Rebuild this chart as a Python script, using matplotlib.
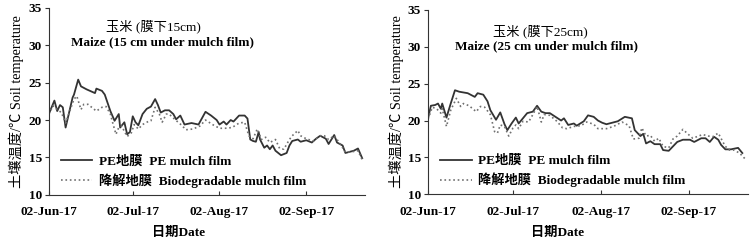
import matplotlib
matplotlib.use('Agg')
import matplotlib.pyplot as plt
import matplotlib.dates as mdates
import numpy as np
import pandas as pd

plt.rcParams['font.family'] = ['Liberation Serif', 'Noto Sans CJK SC']
plt.rcParams['font.weight'] = 'bold'

start = pd.Timestamp('2017-06-02')
tick_dates = ['2017-06-02', '2017-07-02', '2017-08-02', '2017-09-02']

# 15 cm, PE film (days since 02-Jun-17, degC)
pe15_day = [0, 2, 3, 4, 5, 6, 7.5, 8.5, 9, 10.5, 11.5, 13.5, 16.5, 17, 19, 20, 22, 23.5, 25, 25.5,
            27, 28, 29, 30, 31, 32, 33.5, 35, 36.5, 38, 39, 40, 41.5, 43, 44.5, 45.5, 47, 48.5, 51,
            53.5, 56, 58, 60, 61, 62.5, 63.5, 65, 66, 68, 70, 71, 72, 73, 74, 75, 75.5, 77, 78, 79,
            80, 81, 83, 85, 86, 87, 89, 90, 92, 94, 95.5, 97, 98, 99, 100, 102, 103, 105, 106, 108,
            109, 110.5, 112]
pe15_val = [20.8, 22.6, 21.2, 22.0, 21.7, 19.0, 21.4, 23.0, 23.4, 25.4, 24.5, 24.1, 23.6, 24.2, 23.9,
            23.4, 21.2, 19.9, 20.8, 19.0, 19.7, 18.1, 18.4, 20.5, 19.7, 19.3, 20.8, 21.5, 21.8, 22.8,
            22.0, 21.0, 21.3, 21.3, 20.8, 20.1, 20.6, 19.4, 19.6, 19.4, 21.1, 20.6, 20.0, 19.4, 19.8,
            19.4, 20.0, 19.8, 20.6, 20.6, 20.2, 17.4, 17.2, 17.1, 18.4, 17.4, 16.3, 16.6, 16.1, 16.6,
            15.9, 15.3, 15.6, 16.6, 17.2, 17.4, 17.1, 17.3, 17.0, 17.5, 17.9, 17.7, 17.5, 16.8, 18.0,
            17.0, 16.6, 15.6, 15.8, 15.9, 16.2, 14.9]

# 15 cm, biodegradable film
bio15_day = [0, 1.5, 3, 4.5, 6, 7.5, 9, 10, 11.5, 12.5, 14, 17, 19, 20.5, 22, 23, 24, 25, 26, 28,
             29.5, 30.5, 32, 33.5, 35.5, 36.5, 38, 39.5, 40.5, 42, 43, 45, 47.5, 49, 51.5, 54, 56,
             58.5, 61, 63, 65.5, 68, 70, 71.5, 73, 74.5, 76, 77.5, 79, 81, 82.5, 84, 86, 87, 89, 90,
             92, 94.5, 97, 98.5, 100, 102, 104, 106, 109, 110.5, 112]
bio15_val = [20.8, 21.9, 21.4, 21.0, 19.6, 21.2, 22.8, 23.2, 21.4, 22.1, 22.1, 21.2, 21.7, 21.8, 20.8,
             19.4, 18.1, 19.0, 19.2, 17.8, 18.3, 19.4, 18.8, 19.4, 19.8, 19.9, 21.7, 20.8, 19.7, 20.8,
             20.8, 20.1, 19.3, 18.7, 18.8, 19.2, 20.0, 19.4, 18.9, 18.9, 19.0, 19.6, 19.7, 17.9, 17.5,
             18.8, 17.4, 17.7, 17.0, 17.4, 16.2, 16.1, 17.4, 17.9, 18.6, 17.9, 17.5, 17.2, 17.9, 17.9,
             17.4, 17.9, 16.9, 15.7, 15.8, 15.9, 14.7]

# 25 cm, PE film
pe25_day = [0, 1, 2.5, 3.5, 4.5, 5, 6.5, 8, 9.5, 11, 14, 16.5, 17.5, 19.5, 21, 22, 24, 25.5, 27, 28,
            29.5, 31, 32, 33.5, 35, 37, 38.5, 40, 41.5, 43, 45, 47, 48, 49.5, 51.5, 52.5, 55, 56.5,
            58.5, 60, 61.5, 63, 65, 67, 69.5, 72, 73, 75, 76, 77, 78.5, 80, 82, 83, 85, 86.5, 88, 90,
            92.5, 94, 96.5, 98, 99.5, 101, 102.5, 103.5, 105, 107, 109.5, 111]
pe25_val = [20.3, 22.0, 22.1, 22.3, 21.6, 22.3, 20.4, 22.3, 24.1, 23.9, 23.7, 23.2, 23.7, 23.5, 22.6,
            21.4, 20.1, 21.1, 19.5, 18.7, 19.6, 20.4, 19.6, 20.3, 21.0, 21.2, 22.0, 21.2, 21.0, 21.0,
            20.5, 20.0, 20.3, 19.4, 19.6, 19.3, 19.9, 20.7, 20.5, 20.0, 19.7, 19.5, 19.7, 19.9, 20.5,
            20.3, 18.7, 17.9, 18.2, 16.9, 17.2, 16.8, 16.8, 16.0, 15.9, 16.5, 17.1, 17.4, 17.4, 17.1,
            17.6, 17.6, 17.1, 17.8, 17.4, 16.7, 16.1, 16.1, 16.3, 15.6]

# 25 cm, biodegradable film
bio25_day = [0, 1.5, 3, 4.5, 5, 6.5, 8, 10, 11.5, 12.5, 14.5, 17, 18.5, 20, 22, 23.5, 24.5, 25.5, 27,
             28.5, 30, 31, 32, 33.5, 35.5, 37, 38.5, 40, 41, 43, 45.5, 47.5, 49, 51.5, 54, 56, 58.5,
             60, 63, 65.5, 68.5, 71, 72.5, 74.5, 75.5, 77, 78.5, 80, 81.5, 83, 85, 86.5, 88, 90, 92,
             93.5, 95.5, 97, 99, 100.5, 102.5, 104, 105, 106.5, 108, 110, 112]
bio25_val = [20.2, 21.8, 21.6, 21.0, 21.6, 19.2, 21.4, 23.0, 21.9, 22.3, 22.0, 21.2, 21.9, 21.8, 20.8,
             18.5, 18.3, 19.4, 19.2, 17.9, 19.0, 19.4, 18.9, 19.9, 19.8, 20.8, 21.9, 19.8, 20.8, 20.7,
             19.9, 19.0, 18.9, 19.2, 19.3, 19.8, 19.5, 18.9, 18.9, 19.2, 19.8, 19.3, 17.5, 17.6, 19.0,
             17.9, 18.0, 17.2, 17.6, 16.5, 16.3, 17.5, 17.9, 18.8, 18.1, 17.6, 17.9, 18.1, 17.9, 17.8,
             18.3, 17.2, 16.5, 16.0, 16.0, 15.6, 14.8]

panels = [
    {'rect': [0.065, 0.198, 0.421, 0.77], 'pe': (pe15_day, pe15_val), 'bio': (bio15_day, bio15_val),
     'cn': u'玉米 (膜下15cm)', 'en': 'Maize (15 cm under mulch film)',
     'cnxy': (0.33, 0.9), 'enxy': (0.36, 0.815), 'xlabx': 0.238},
    {'rect': [0.57, 0.2, 0.426, 0.76], 'pe': (pe25_day, pe25_val), 'bio': (bio25_day, bio25_val),
     'cn': u'玉米 (膜下25cm)', 'en': 'Maize (25 cm under mulch film)',
     'cnxy': (0.35, 0.885), 'enxy': (0.37, 0.8), 'xlabx': 0.743},
]

fs = 9.5
fig = plt.figure(figsize=(7.51, 2.43), dpi=100)
for p in panels:
    ax = fig.add_axes(p['rect'])
    x = start + pd.to_timedelta(p['pe'][0], unit='D')
    ax.plot(x, p['pe'][1], color='#333333', lw=1.3, ls='-', label=u'PE地膜  PE mulch film')
    x = start + pd.to_timedelta(p['bio'][0], unit='D')
    ax.plot(x, p['bio'][1], color='#707070', lw=1.2, ls=':', label=u'降解地膜  Biodegradable mulch film')
    ax.set_xlim(start, start + pd.Timedelta(days=113))
    ax.set_ylim(10, 35)
    ax.set_yticks([10, 15, 20, 25, 30, 35])
    ax.set_xticks(pd.to_datetime(tick_dates))
    ax.xaxis.set_major_formatter(mdates.DateFormatter('%d-%b-%y'))
    ax.spines['top'].set_visible(False)
    ax.spines['right'].set_visible(False)
    ax.spines['left'].set_color('#333333')
    ax.spines['bottom'].set_color('#333333')
    ax.tick_params(axis='x', direction='in', length=3, labelsize=fs, pad=8, color='#333333')
    ax.tick_params(axis='y', direction='out', length=3, labelsize=fs, pad=2, color='#333333')
    ax.text(p['cnxy'][0], p['cnxy'][1], p['cn'], transform=ax.transAxes, ha='center', va='center',
            fontsize=fs, fontweight='normal')
    ax.text(p['enxy'][0], p['enxy'][1], p['en'], transform=ax.transAxes, ha='center', va='center',
            fontsize=fs)
    ax.set_ylabel(u'土壤温度/℃ Soil temperature', fontsize=10.3, fontweight='normal', labelpad=3)
    fig.text(p['xlabx'], 0.04, u'日期Date', ha='center', va='center', fontsize=fs)
    ax.legend(loc='lower left', bbox_to_anchor=(0.0, -0.025), frameon=False, fontsize=fs,
              handlelength=2.4, handletextpad=0.5, labelspacing=0.4)

fig.savefig('out.png', dpi=100)
